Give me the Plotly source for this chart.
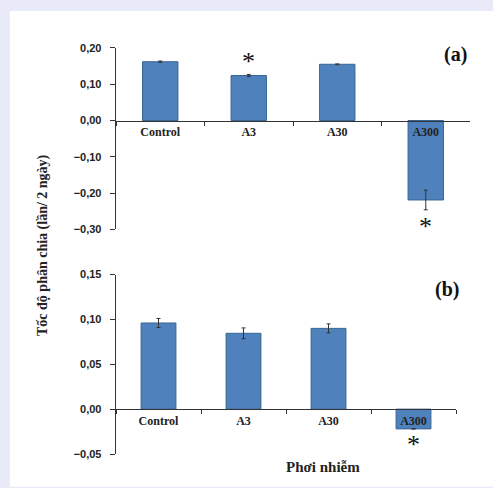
import plotly.graph_objects as go

categories = ["Control", "A3", "A30", "A300"]
vals_a = [0.162, 0.124, 0.155, -0.219]
err_a = [0.002, 0.003, 0.001, 0.027]
vals_b = [0.096, 0.0845, 0.090, -0.022]
err_b = [0.005, 0.006, 0.005, 0.0]
ticks_a = [0.20, 0.10, 0.00, -0.10, -0.20, -0.30]
ticks_b = [0.15, 0.10, 0.05, 0.00, -0.05]
star_a = ["A3", "A300"]
star_b = ["A300"]

W, H = 493, 488
BAR = "#4f81bd"
EDGE = "#3a6594"
SANS = "Liberation Sans"
SERIF = "Liberation Serif"

def px_x(p):
    return p / W

def px_y(p):
    return 1 - p / H

range_a = [-0.30, 0.20]
range_b = [-0.05, 0.15]
dom_a_y = [px_y(229), px_y(43)]
dom_b_y = [px_y(459.3), px_y(275.3)]
dom_a_x = [px_x(116), px_x(470)]
dom_b_x = [px_x(116), px_x(456)]

def zero_pos(dom, rng):
    return dom[0] + (0 - rng[0]) / (rng[1] - rng[0]) * (dom[1] - dom[0])

fig = go.Figure()
fig.add_trace(go.Bar(x=categories, y=vals_a, xaxis="x", yaxis="y", width=0.4,
                     marker=dict(color=BAR, line=dict(color=EDGE, width=1)),
                     error_y=dict(type="data", array=err_a, color="#333", thickness=1, width=2),
                     showlegend=False))
fig.add_trace(go.Bar(x=categories, y=vals_b, xaxis="x2", yaxis="y2", width=0.41,
                     marker=dict(color=BAR, line=dict(color=EDGE, width=1)),
                     error_y=dict(type="data", array=err_b, color="#333", thickness=1, width=2),
                     showlegend=False))

xcommon = dict(showline=True, linecolor="#333", linewidth=1.3, ticks="outside",
               tickson="boundaries", ticklen=4, tickcolor="#333", showgrid=False,
               tickfont=dict(family=SERIF, size=12, color="#222", weight="bold"),
               anchor="free", fixedrange=True)
ycommon = dict(showline=True, linecolor="#333", linewidth=1.3, ticks="outside",
               ticklen=5, tickcolor="#333", showgrid=False, zeroline=False,
               tickformat=".2f", ticklabelstandoff=6, fixedrange=True,
               tickfont=dict(family=SANS, size=11, color="#222", weight="bold"))

fig.update_layout(
    width=W, height=H, margin=dict(l=0, r=0, t=0, b=0),
    paper_bgcolor="#e8ebf7", plot_bgcolor="rgba(0,0,0,0)",
    separators=",.",
    xaxis=dict(domain=dom_a_x, position=zero_pos(dom_a_y, range_a), **xcommon),
    yaxis=dict(domain=dom_a_y, range=range_a, tickvals=ticks_a, anchor="x", **ycommon),
    xaxis2=dict(domain=dom_b_x, position=zero_pos(dom_b_y, range_b), **xcommon),
    yaxis2=dict(domain=dom_b_y, range=range_b, tickvals=ticks_b, anchor="x2", **ycommon),
    shapes=[dict(type="rect", xref="paper", yref="paper", x0=px_x(10), x1=1.01,
                 y0=-0.01, y1=px_y(5), fillcolor="white", line=dict(width=0), layer="below")],
)

ann = []
for c in star_a:
    i = categories.index(c)
    v = vals_a[i]
    yv = v + err_a[i] + 0.035 if v > 0 else v - err_a[i] - 0.045
    ann.append(dict(x=c, y=yv, xref="x", yref="y", text="*", showarrow=False,
                    xanchor="center", yanchor="middle",
                    font=dict(family=SERIF, size=26, color="#111")))
for c in star_b:
    i = categories.index(c)
    v = vals_b[i]
    yv = v - err_b[i] - 0.017
    ann.append(dict(x=c, y=yv, xref="x2", yref="y2", text="*", showarrow=False,
                    xanchor="center", yanchor="middle",
                    font=dict(family=SERIF, size=26, color="#111")))
ann += [
    dict(x=px_x(455), y=px_y(50), xref="paper", yref="paper", text="<b>(a)</b>",
         xanchor="center", yanchor="middle",
         showarrow=False, font=dict(family=SERIF, size=20, color="#111")),
    dict(x=px_x(447), y=px_y(291), xref="paper", yref="paper", text="<b>(b)</b>",
         xanchor="center", yanchor="middle",
         showarrow=False, font=dict(family=SERIF, size=20, color="#111")),
    dict(x=px_x(43), y=px_y(245), xref="paper", yref="paper",
         text="<b>Tốc độ phân chia (lần/ 2 ngày)</b>", textangle=-90,
         xanchor="center", yanchor="middle",
         showarrow=False, font=dict(family=SERIF, size=14, color="#222")),
    dict(x=px_x(323), y=px_y(473), xref="paper", yref="paper",
         text="<b>Phơi nhiễm</b>", showarrow=False,
         xanchor="center", yanchor="middle",
         font=dict(family=SERIF, size=15, color="#222")),
]
fig.update_layout(annotations=ann)

fig.write_html("out.html", config=dict(displayModeBar=False, staticPlot=True),
               post_script="document.body.style.margin='0';document.body.style.overflow='hidden';")
